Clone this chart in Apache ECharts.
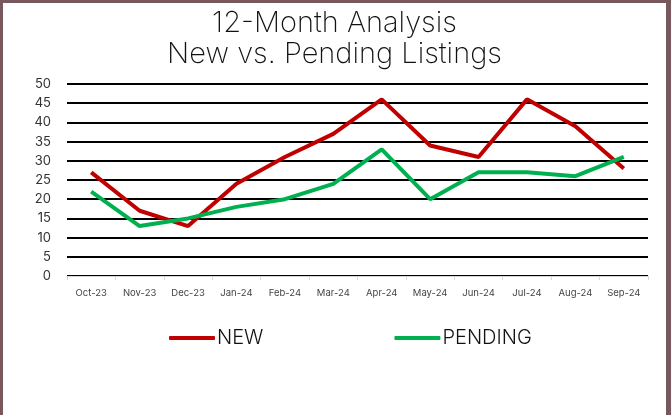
<!DOCTYPE html>
<html>
<head>
<meta charset="utf-8">
<script src="https://cdn.jsdelivr.net/npm/echarts@6/dist/echarts.min.js"></script>
<style>
  html, body { margin: 0; padding: 0; background: #fff; }
  #chart {
    width: 671px; height: 415px; box-sizing: border-box;
    border-left: 3px solid #76585d; border-top: 3px solid #76585d; border-right: 5px solid #76585d;
  }
</style>
</head>
<body>
<div id="chart"></div>
<script>
var months = ['Oct-23','Nov-23','Dec-23','Jan-24','Feb-24','Mar-24','Apr-24','May-24','Jun-24','Jul-24','Aug-24','Sep-24'];
var newListings = [27, 17, 13, 24, 31, 37, 46, 34, 31, 46, 39, 28];
var pendingListings = [22, 13, 15, 18, 20, 24, 33, 20, 27, 27, 26, 31];

var chart = echarts.init(document.getElementById('chart'));
var option = {
    animation: false,
    title: {
        text: '12-Month Analysis\nNew vs. Pending Listings',
        left: 'center',
        top: 0,
        textStyle: {
            fontFamily: 'Inter',
            fontWeight: 200,
            fontSize: 29,
            lineHeight: 31,
            color: '#111'
        }
    },
    legend: {
        top: 320,
        left: 161,
        itemGap: 131,
        itemWidth: 46,
        itemHeight: 4,
        icon: 'roundRect',
        textStyle: { fontFamily: 'Inter', fontSize: 20, fontWeight: 300, color: '#111', padding: [0, 0, 0, -3] },
        data: ['NEW', 'PENDING']
    },
    grid: { left: 64, right: 18, top: 81, height: 192, containLabel: false },
    xAxis: {
        type: 'category',
        data: months,
        boundaryGap: true,
        axisLine: { lineStyle: { color: '#d9d9d9', width: 1 } },
        axisTick: { show: true, length: 4, lineStyle: { color: '#d9d9d9' } },
        axisLabel: { fontFamily: 'Inter', fontSize: 9.5, color: '#444', margin: 12 }
    },
    yAxis: {
        type: 'value',
        min: 0,
        max: 50,
        interval: 5,
        axisLine: { show: false },
        axisTick: { show: false },
        axisLabel: { fontFamily: 'Inter', fontSize: 13, color: '#333', margin: 16 },
        splitLine: { lineStyle: { color: '#000', width: 2 } }
    },
    series: [
        {
            name: 'NEW',
            type: 'line',
            data: newListings,
            symbol: 'none',
            color: '#c00000',
            lineStyle: { width: 4, color: '#c00000' },
            z: 3
        },
        {
            name: 'PENDING',
            type: 'line',
            data: pendingListings,
            symbol: 'none',
            color: '#00b050',
            lineStyle: { width: 4, color: '#00b050' },
            z: 4
        }
    ]
};
chart.setOption(option);
</script>
</body>
</html>
